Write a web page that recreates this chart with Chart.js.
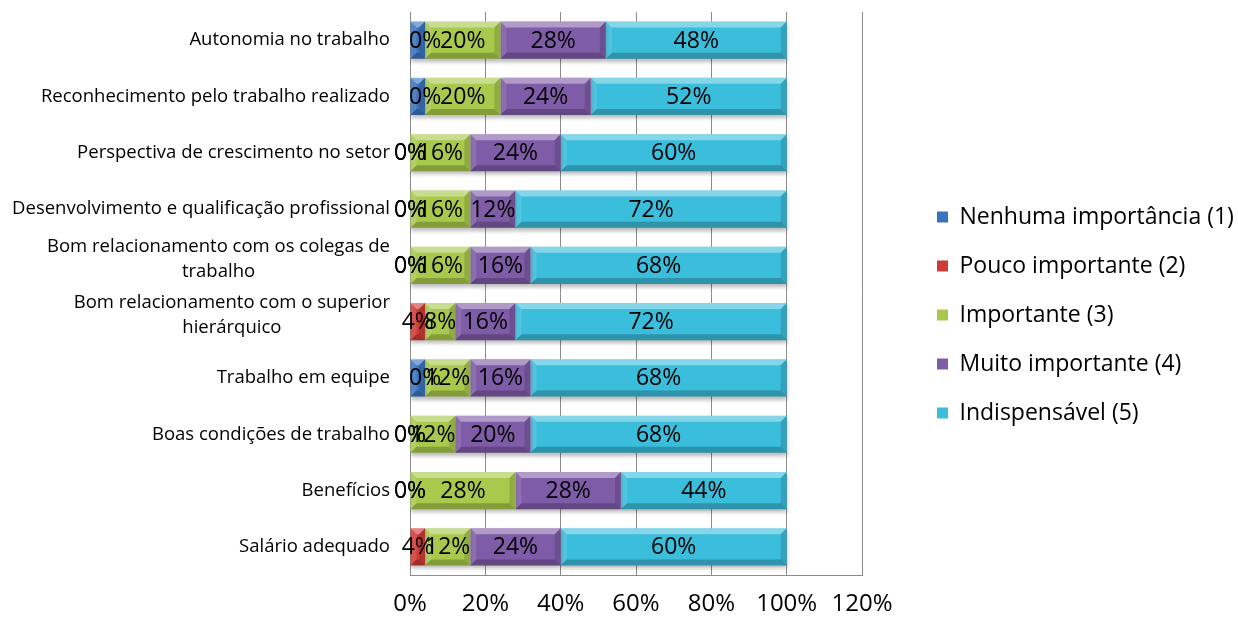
<!DOCTYPE html>
<html>
<head>
<meta charset="utf-8">
<script src="https://cdn.jsdelivr.net/npm/chart.js@4"></script>
<style>
  html, body { margin: 0; padding: 0; background: #fff; }
  #wrap { width: 1238px; height: 618px; }
</style>
</head>
<body>
<div id="wrap"><canvas id="chart"></canvas></div>
<script>
// Categories, top to bottom as in the picture
const categories = [
  'Autonomia no trabalho',
  'Reconhecimento pelo trabalho realizado',
  'Perspectiva de crescimento no setor',
  'Desenvolvimento e qualificação profissional',
  ['Bom relacionamento com os colegas de', 'trabalho'],
  ['Bom relacionamento com o superior', 'hierárquico'],
  'Trabalho em equipe',
  'Boas condições de trabalho',
  'Benefícios',
  'Salário adequado'
];

const seriesNames = [
  'Nenhuma importância (1)',
  'Pouco importante (2)',
  'Importante (3)',
  'Muito importante (4)',
  'Indispensável (5)'
];

// Values in percent
const nenhuma       = [4, 4, 0, 0, 0, 0, 4, 0, 0, 0];
const pouco         = [0, 0, 0, 0, 0, 4, 0, 0, 0, 4];
const importante    = [20, 20, 16, 16, 16, 8, 12, 12, 28, 12];
const muito         = [28, 24, 24, 12, 16, 16, 16, 20, 28, 24];
const indispensavel = [48, 52, 60, 72, 68, 72, 68, 68, 44, 60];

// Labels as printed on the bars (null = none shown)
const nenhumaLabels = [null, null, '0%', '0%', '0%', null, null, '0%', '0%', null];
const poucoLabels   = ['0%', '0%', '0%', '0%', '0%', '4%', '0%', '0%', '0%', '4%'];

const xTicks = [0, 20, 40, 60, 80, 100, 120];

const colors = ['#3a74bd', '#cf3b36', '#a9c94c', '#7e5ca7', '#3bbddc'];
const FONT = '"Open Sans", sans-serif';

const pct = arr => arr.map(v => v + '%');

// legend sits 49px away from the plot, plot ends at 120%
const LEGEND_WIDTH = 376;
const LEGEND_SHIFT = 49;

const legendPlace = {
  id: 'legendPlace',
  beforeLayout(chart) {
    const lg = chart.legend;
    if (lg && !lg._wrapped) {
      const fit = lg.fit;
      lg.fit = function () { fit.call(this); this.width = LEGEND_WIDTH; };
      lg._wrapped = true;
    }
  },
  afterLayout(chart) {
    const lg = chart.legend;
    lg.left += LEGEND_SHIFT;
    lg.right += LEGEND_SHIFT;
  }
};

// bevel look + soft shadow on the bars
const bevelPlugin = {
  id: 'bevel',
  beforeDatasetsDraw(chart) {
    const ctx = chart.ctx;
    ctx.save();
    ctx.shadowColor = 'rgba(0,0,0,0.28)';
    ctx.shadowBlur = 4;
    ctx.shadowOffsetY = 3;
  },
  afterDatasetsDraw(chart) {
    const ctx = chart.ctx;
    ctx.restore();
    chart.data.datasets.forEach((ds, i) => {
      chart.getDatasetMeta(i).data.forEach(bar => {
        const { x, y, base, height } = bar.getProps(['x', 'y', 'base', 'height'], true);
        const l = Math.min(x, base), r = Math.max(x, base);
        const w = r - l;
        if (w < 1) return;
        const t = y - height / 2, b = y + height / 2;
        const e = Math.min(6, w / 2);
        const quad = (pts, fill) => {
          ctx.fillStyle = fill;
          ctx.beginPath();
          ctx.moveTo(pts[0][0], pts[0][1]);
          for (let k = 1; k < pts.length; k++) ctx.lineTo(pts[k][0], pts[k][1]);
          ctx.closePath();
          ctx.fill();
        };
        ctx.save();
        quad([[l, t], [r, t], [r - e, t + e], [l + e, t + e]], 'rgba(255,255,255,0.38)');
        quad([[l, b], [r, b], [r - e, b - e], [l + e, b - e]], 'rgba(0,0,0,0.22)');
        quad([[l, t], [l + e, t + e], [l + e, b - e], [l, b]], 'rgba(255,255,255,0.12)');
        quad([[r, t], [r - e, t + e], [r - e, b - e], [r, b]], 'rgba(0,0,0,0.14)');
        ctx.restore();
      });
    });
  }
};

// value labels centred on each segment
const valueLabels = {
  id: 'valueLabels',
  afterDatasetsDraw(chart) {
    const ctx = chart.ctx;
    ctx.save();
    ctx.font = '23px ' + FONT;
    ctx.fillStyle = '#000';
    ctx.textAlign = 'center';
    ctx.textBaseline = 'middle';
    chart.data.datasets.forEach((ds, i) => {
      chart.getDatasetMeta(i).data.forEach((bar, j) => {
        const txt = ds.valueText[j];
        if (!txt) return;
        const { x, y, base } = bar.getProps(['x', 'y', 'base'], true);
        ctx.fillText(txt, (x + base) / 2, y + 1);
      });
    });
    ctx.restore();
  }
};

// category labels: block right aligned, lines centred on each other
const categoryLabels = {
  id: 'categoryLabels',
  afterDraw(chart) {
    const ctx = chart.ctx;
    const sc = chart.scales.y;
    const rightEdge = sc.right - 20;
    ctx.save();
    ctx.font = '18.5px ' + FONT;
    ctx.fillStyle = '#000';
    ctx.textAlign = 'center';
    ctx.textBaseline = 'middle';
    categories.forEach((lab, i) => {
      const lines = Array.isArray(lab) ? lab : [lab];
      const maxW = Math.max(...lines.map(s => ctx.measureText(s).width));
      const cx = rightEdge - maxW / 2;
      const lh = 25;
      const yc = sc.getPixelForTick(i) - (lines.length > 1 ? 6 : 0);
      lines.forEach((s, k) => {
        ctx.fillText(s, cx, yc + (k - (lines.length - 1) / 2) * lh);
      });
    });
    ctx.restore();
  }
};

const values = [nenhuma, pouco, importante, muito, indispensavel];
const texts = [nenhumaLabels, poucoLabels, pct(importante), pct(muito), pct(indispensavel)];

new Chart(document.getElementById('chart'), {
  type: 'bar',
  data: {
    labels: categories,
    datasets: seriesNames.map((name, i) => ({
      label: name,
      data: values[i],
      valueText: texts[i],
      backgroundColor: colors[i],
      borderWidth: 0,
      barPercentage: 0.66,
      categoryPercentage: 1
    }))
  },
  options: {
    indexAxis: 'y',
    responsive: true,
    maintainAspectRatio: false,
    animation: false,
    layout: { padding: { top: 12, bottom: 0, left: 0, right: 0 } },
    scales: {
      x: {
        type: 'linear',
        stacked: true,
        min: 0,
        max: 120,
        afterBuildTicks: s => { s.ticks = xTicks.map(v => ({ value: v })); },
        afterFit: s => { s.height = 43; },
        ticks: {
          callback: v => v + '%',
          color: '#000',
          font: { size: 24, family: FONT },
          padding: 15,
          maxRotation: 0
        },
        grid: { color: '#8c8c8c', drawTicks: false },
        border: { color: '#8c8c8c' }
      },
      y: {
        type: 'category',
        stacked: true,
        offset: true,
        grid: { display: false, drawTicks: false },
        border: { color: '#8c8c8c' },
        ticks: { display: false },
        afterFit: s => { s.width = 410; }
      }
    },
    plugins: {
      legend: {
        position: 'right',
        align: 'center',
        labels: {
          boxWidth: 11,
          boxHeight: 11,
          padding: 26,
          color: '#000',
          font: { size: 23, family: FONT }
        }
      },
      tooltip: { enabled: false }
    }
  },
  plugins: [legendPlace, bevelPlugin, valueLabels, categoryLabels]
});
</script>
</body>
</html>
